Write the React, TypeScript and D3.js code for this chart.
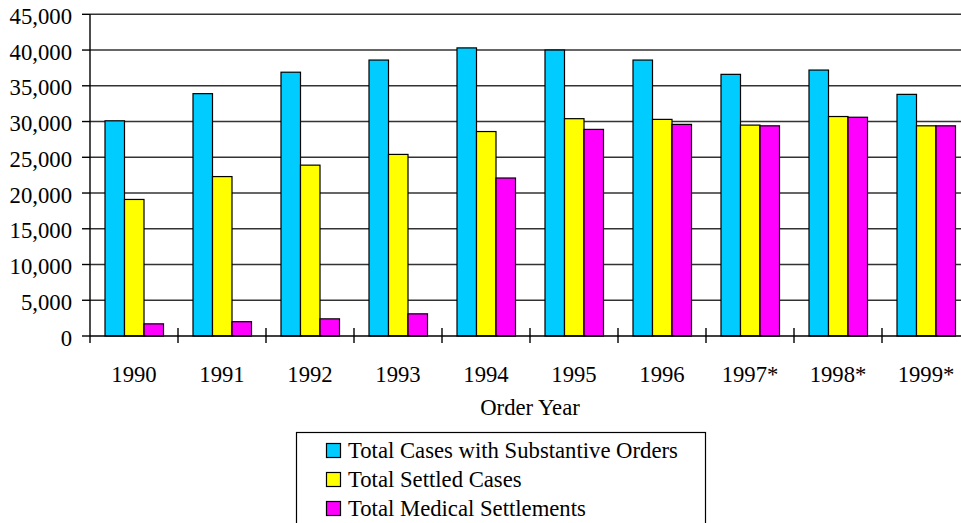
import React from "react";
import * as d3 from "d3";

const years = ["1990", "1991", "1992", "1993", "1994", "1995", "1996", "1997*", "1998*", "1999*"];
const substantiveOrders = [30100, 33900, 36900, 38600, 40300, 40000, 38600, 36600, 37200, 33800];
const settledCases = [19100, 22300, 23900, 25400, 28600, 30400, 30300, 29500, 30700, 29400];
const medicalSettlements = [1700, 2000, 2400, 3100, 22100, 28900, 29600, 29400, 30600, 29400];
const seriesNames = ["Total Cases with Substantive Orders", "Total Settled Cases", "Total Medical Settlements"];
const seriesColors = ["#00CCFF", "#FFFF00", "#FF00FF"];
const yTicks = [0, 5000, 10000, 15000, 20000, 25000, 30000, 35000, 40000, 45000];

const W = 961;
const H = 523;
const left = 90;
const right = 970;
const top = 14.3;
const bottom = 336;
const textStyle = { fontFamily: "Liberation Serif", fontSize: "22.7px" };

export default function App() {
  const x = d3.scaleBand<string>().domain(years).range([left, right]).padding(0);
  const sub = d3.scaleBand<string>().domain(seriesNames).range([15, 73.5]).padding(0);
  const y = d3.scaleLinear().domain([0, 45000]).range([bottom, top]);
  const series = [substantiveOrders, settledCases, medicalSettlements];
  const fmt = d3.format(",");
  const bw = x.bandwidth();

  return (
    <svg width={W} height={H} style={{ position: "absolute", left: 0, top: 0, background: "#fff" }}>
      <rect x={0} y={0} width={W} height={H} fill="#fff" />
      {/* gridlines */}
      {yTicks.filter((t) => t > 0).map((t) => (
        <line key={t} x1={left} x2={right} y1={y(t)} y2={y(t)} stroke="#333" strokeWidth={1.6} />
      ))}
      {/* bars */}
      {years.map((yr, i) => (
        <g key={yr}>
          {series.map((s, j) => (
            <rect
              key={j}
              x={(x(yr) as number) + (sub(seriesNames[j]) as number)}
              y={y(s[i])}
              width={sub.bandwidth()}
              height={bottom - y(s[i])}
              fill={seriesColors[j]}
              stroke="#000"
              strokeWidth={1.2}
            />
          ))}
        </g>
      ))}
      {/* y axis */}
      <line x1={left} x2={left} y1={top} y2={343} stroke="#000" strokeWidth={1.4} />
      {yTicks.map((t) => (
        <g key={t}>
          <line x1={82} x2={left} y1={y(t)} y2={y(t)} stroke="#000" strokeWidth={1.4} />
          <text x={72} y={y(t) + 9.7} textAnchor="end" style={textStyle} fill="#000">
            {fmt(t)}
          </text>
        </g>
      ))}
      {/* x axis */}
      <line x1={left} x2={right} y1={bottom} y2={bottom} stroke="#000" strokeWidth={1.6} />
      {years.slice(1).map((yr) => (
        <line key={yr} x1={x(yr) as number} x2={x(yr) as number} y1={328} y2={343} stroke="#000" strokeWidth={1.4} />
      ))}
      {years.map((yr) => (
        <text key={yr} x={(x(yr) as number) + bw / 2} y={382} textAnchor="middle" style={textStyle} fill="#000">
          {yr}
        </text>
      ))}
      <text x={(left + right) / 2} y={415} textAnchor="middle" style={textStyle} fill="#000">
        Order Year
      </text>
      {/* legend */}
      <rect x={296.5} y={432.5} width={409} height={120} fill="#fff" stroke="#000" strokeWidth={1.2} />
      {seriesNames.map((n, j) => (
        <g key={n}>
          <rect x={326.5} y={443.5 + j * 29} width={14} height={14} fill={seriesColors[j]} stroke="#000" strokeWidth={1.2} />
          <text x={348} y={457.5 + j * 29} style={textStyle} fill="#000">
            {n}
          </text>
        </g>
      ))}
    </svg>
  );
}
